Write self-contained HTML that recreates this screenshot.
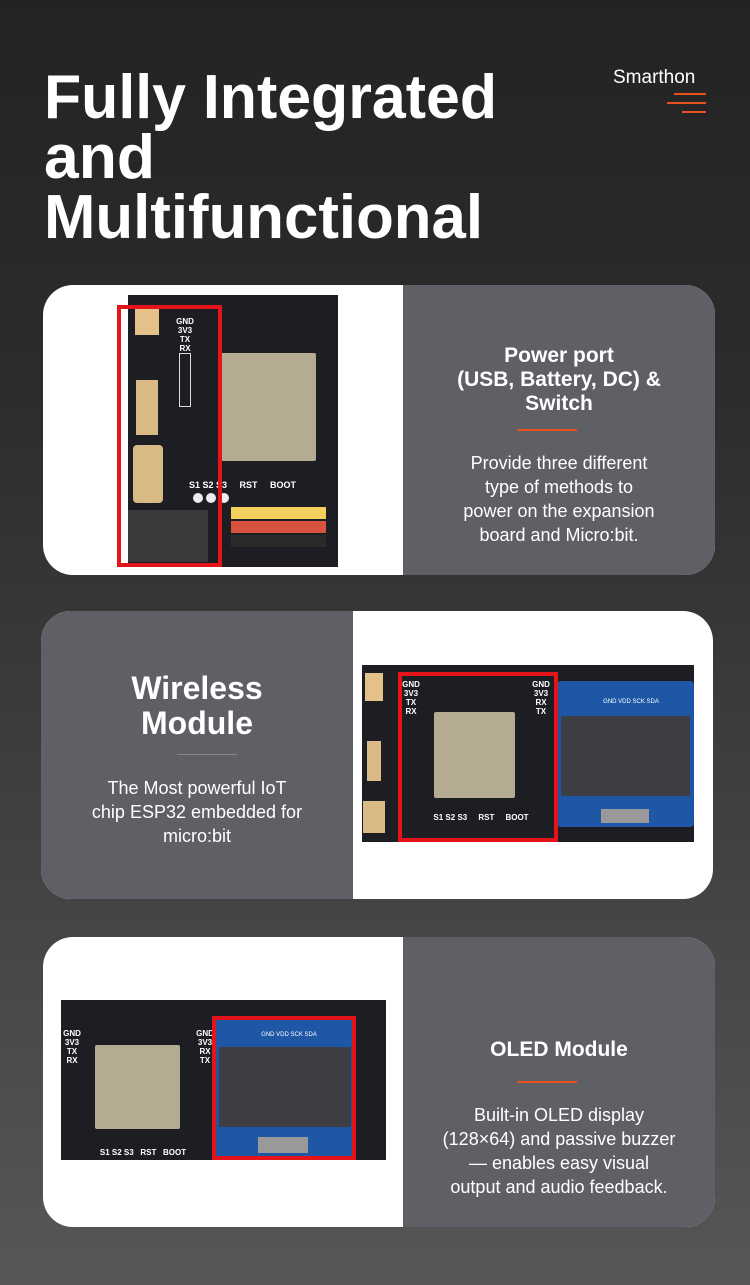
<!DOCTYPE html>
<html><head><meta charset="utf-8">
<style>
*{margin:0;padding:0;box-sizing:border-box}
body{width:750px;height:1285px;overflow:hidden;background:linear-gradient(180deg,#232323 0%,#2c2c2c 30%,#444 70%,#575757 100%);font-family:"Liberation Sans",sans-serif;position:relative}
.a{position:absolute}
.card{position:absolute;border-radius:30px;overflow:hidden;background:#fff}
.gray{position:absolute;background:#5f6066;top:0;bottom:0}
.txt{position:absolute;color:#fff;text-align:center}
.h{font-weight:bold;font-size:21px;line-height:24px}
.h2{font-weight:bold;font-size:32px;line-height:35px}
.p{font-size:18px;line-height:24px}
.bar{position:absolute;height:2px;background:#e8501e}
.board{position:absolute;background:#1d1e23}
.mod{position:absolute;background:#b5ab93;border-radius:2px}
.red{position:absolute;border:4px solid #e5141b}
.oled{position:absolute;background:#1d57a6;border-radius:4px}
.scr{position:absolute;background:#3d3f44}
.lbl{position:absolute;color:#fff;font-size:8px;font-weight:bold;line-height:9px;text-align:center;white-space:nowrap}
.pin{position:absolute;width:10px;height:10px;border-radius:50%;background:#eee}
</style></head><body>
<svg class="a" style="left:0;top:0" width="750" height="260">
<g fill="#fff" font-family="Liberation Sans" font-weight="bold" font-size="62">
<text x="44" y="118" textLength="453" lengthAdjust="spacingAndGlyphs">Fully Integrated</text>
<text x="44" y="178" textLength="111" lengthAdjust="spacingAndGlyphs">and</text>
<text x="44" y="238" textLength="439" lengthAdjust="spacingAndGlyphs">Multifunctional</text>
</g>
<text x="613" y="83" fill="#fff" font-family="Liberation Sans" font-size="19">Smarthon</text>
<rect x="674" y="93" width="32" height="2" fill="#e8501e"/>
<rect x="667" y="102" width="39" height="2" fill="#e8501e"/>
<rect x="682" y="111" width="24" height="2" fill="#e8501e"/>
</svg>

<!-- Card 1 -->
<div class="card" style="left:43px;top:285px;width:672px;height:290px">
  <div class="gray" style="left:360px;right:0"></div>
  <div class="board" style="left:85px;top:10px;width:210px;height:272px"></div>
  <div class="a" style="left:92px;top:20px;width:24px;height:30px;background:#e3c189"></div>
  <div class="a" style="left:93px;top:95px;width:22px;height:55px;background:#d9b985"></div>
  <div class="a" style="left:90px;top:160px;width:30px;height:58px;background:#d9b985;border-radius:4px"></div>
  <div class="a" style="left:85px;top:225px;width:80px;height:52px;background:#3a3a3a"></div>
  <div class="lbl" style="left:130px;top:32px;width:24px">GND<br>3V3<br>TX<br>RX</div>
  <div class="a" style="left:136px;top:68px;width:12px;height:54px;border:1px solid #ddd"></div>
  <div class="mod" style="left:178px;top:68px;width:95px;height:108px"></div>
  <div class="lbl" style="left:146px;top:196px;width:150px;text-align:left;font-size:9px">S1 S2 S3 &nbsp; &nbsp; RST &nbsp; &nbsp; BOOT</div>
  <div class="pin" style="left:150px;top:208px"></div><div class="pin" style="left:163px;top:208px"></div><div class="pin" style="left:176px;top:208px"></div>
  <div class="a" style="left:188px;top:222px;width:95px;height:12px;background:#f2d05b"></div>
  <div class="a" style="left:188px;top:236px;width:95px;height:12px;background:#d8533e"></div>
  <div class="a" style="left:188px;top:250px;width:95px;height:12px;background:#2a2a2a"></div>
  <div class="red" style="left:74px;top:20px;width:105px;height:262px"></div>
  <div class="txt h" style="left:360px;top:59px;width:312px">Power port<br>(USB, Battery, DC) &amp;<br>Switch</div>
  <div class="bar" style="left:474px;top:144px;width:60px"></div>
  <div class="txt p" style="left:360px;top:166px;width:312px">Provide three different<br>type of methods to<br>power on the expansion<br>board and Micro:bit.</div>
</div>

<!-- Card 2 -->
<div class="card" style="left:41px;top:611px;width:672px;height:288px">
  <div class="gray" style="left:0;width:312px"></div>
  <div class="txt h2" style="left:0;top:60px;width:312px">Wireless<br>Module</div>
  <div class="a" style="left:136px;top:143px;width:60px;height:1px;background:#888"></div>
  <div class="txt p" style="left:0;top:165px;width:312px">The Most powerful IoT<br>chip ESP32 embedded for<br>micro:bit</div>
  <div class="board" style="left:321px;top:54px;width:332px;height:177px"></div>
  <div class="a" style="left:324px;top:62px;width:18px;height:28px;background:#e3c189"></div>
  <div class="a" style="left:326px;top:130px;width:14px;height:40px;background:#d9b985"></div>
  <div class="a" style="left:322px;top:190px;width:22px;height:32px;background:#d9b985"></div>
  <div class="lbl" style="left:361px;top:69px;width:18px">GND<br>3V3<br>TX<br>RX</div>
  <div class="lbl" style="left:488px;top:69px;width:24px">GND<br>3V3<br>RX<br>TX</div>
  <div class="mod" style="left:393px;top:101px;width:81px;height:86px"></div>
  <div class="lbl" style="left:370px;top:202px;width:140px">S1 S2 S3 &nbsp; &nbsp; RST &nbsp; &nbsp; BOOT</div>
  <div class="oled" style="left:516px;top:70px;width:137px;height:146px"></div>
  <div class="scr" style="left:520px;top:105px;width:129px;height:80px"></div>
  <div class="a" style="left:560px;top:198px;width:48px;height:14px;background:#999"></div>
  <div class="lbl" style="left:555px;top:87px;width:70px;font-size:6px;font-weight:normal">GND VDD SCK SDA</div>
  <div class="red" style="left:357px;top:61px;width:160px;height:170px"></div>
</div>

<!-- Card 3 -->
<div class="card" style="left:43px;top:937px;width:672px;height:290px">
  <div class="gray" style="left:360px;right:0"></div>
  <div class="board" style="left:18px;top:63px;width:325px;height:160px"></div>
  <div class="lbl" style="left:20px;top:92px;width:18px">GND<br>3V3<br>TX<br>RX</div>
  <div class="lbl" style="left:150px;top:92px;width:24px">GND<br>3V3<br>RX<br>TX</div>
  <div class="mod" style="left:52px;top:108px;width:85px;height:84px"></div>
  <div class="lbl" style="left:30px;top:211px;width:140px">S1 S2 S3 &nbsp; RST &nbsp; BOOT</div>
  <div class="oled" style="left:172px;top:80px;width:140px;height:143px"></div>
  <div class="scr" style="left:176px;top:110px;width:132px;height:80px"></div>
  <div class="a" style="left:215px;top:200px;width:50px;height:16px;background:#999"></div>
  <div class="lbl" style="left:208px;top:94px;width:76px;font-size:6px;font-weight:normal">GND VDD SCK SDA</div>
  <div class="red" style="left:169px;top:79px;width:144px;height:144px"></div>
  <div class="txt h" style="left:360px;top:101px;width:312px">OLED Module</div>
  <div class="bar" style="left:474px;top:144px;width:60px"></div>
  <div class="txt p" style="left:360px;top:166px;width:312px">Built-in OLED display<br>(128×64) and passive buzzer<br>— enables easy visual<br>output and audio feedback.</div>
</div>
</body></html>
